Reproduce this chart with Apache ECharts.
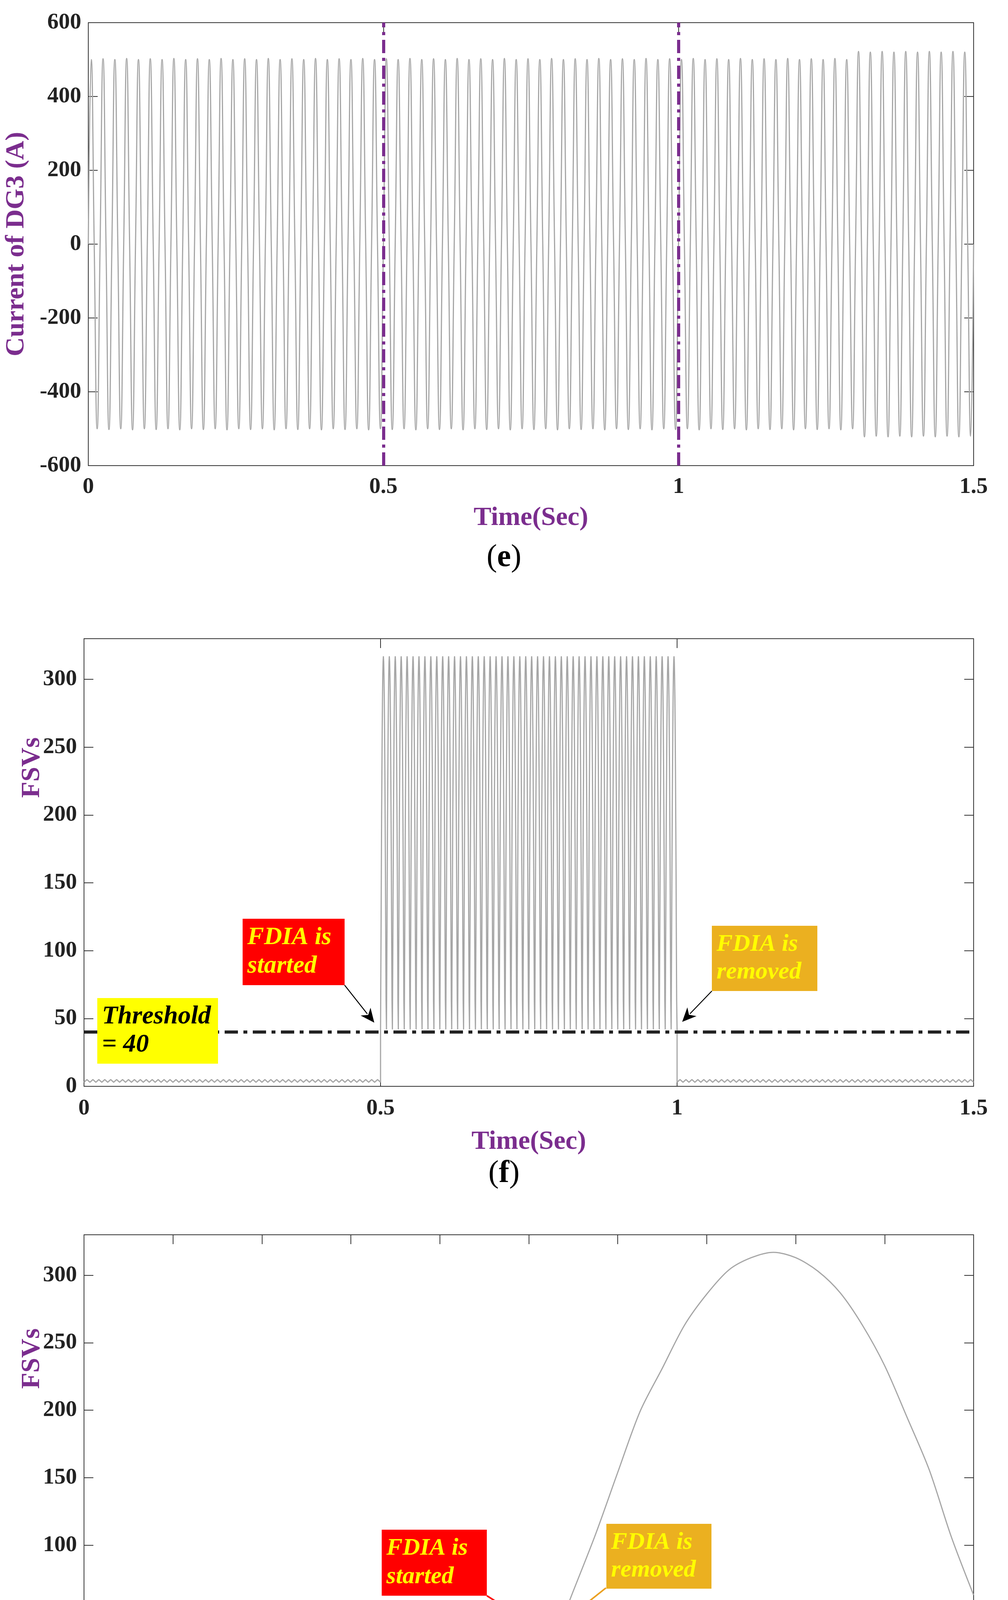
<!DOCTYPE html>
<html><head><meta charset="utf-8">
<script src="https://cdn.jsdelivr.net/npm/echarts@6/dist/echarts.min.js"></script>
<style>html,body{margin:0;padding:0;background:#fff}#c{width:2580px;height:4588px}</style>
</head><body><div id="c"></div>
<script>
// ---------- DATA ----------
// (e) DG3 current: peak amplitude of each 20 ms cycle (50 Hz), 75 cycles over 0..1.5 s
const eCycleAmps = [
500,502,500,503,500,502,500,503,500,502,500,503,500,502,500,503,500,502,500,503,500,502,500,503,500,
502,500,503,500,502,500,503,500,502,500,503,500,502,500,503,500,502,500,503,500,502,500,503,500,502,
500,503,500,502,500,503,500,502,500,503,500,502,500,503,500,522,520,522,520,522,520,522,520,522,520];
const eCyclePeriod = 0.02;
const eEventTimes = [0.5, 1.0];
// (g) FSVs read around attack onset: times and values
const gTimes = [0.49,0.492,0.494,0.4965,0.498,0.4998,0.5,0.50042,0.50069,0.501,0.5015,0.502,0.5025,0.503,0.5035,0.504,0.5045,0.505,0.5055,0.506,0.5065,0.507,0.5075,0.508,0.5085,0.509,0.5095,0.51];
const gValues = [3,2.5,2.6,4,3,2.6,3,20,40,66,108,154,199,231,263,286,304,313,317,313,303,287,263,233,195,156,106,63];
// (f) one 10 ms FSV pulse (offsets after trough) and trough value, repeated during attack
const pulseOffsets = [0,0.0003,0.0008,0.0013,0.0018,0.0023,0.0028,0.0033,0.0038,0.0043,0.0048,0.0053,0.0058,0.0063,0.0068,0.0073,0.0078,0.0083,0.0088,0.0093];
const pulseValues  = [42,66,108,154,199,231,263,286,304,313,317,313,303,287,263,233,195,156,106,63];
const fPulseCount = 50;
const fPulsePeriod = 0.01;
const fRippleValues = [3,5];       // normal-operation ripple low/high
const fRippleHalfPeriod = 0.005;
const threshold = 40;
// ---------- BUILD ----------
const eData = [];
eCycleAmps.forEach((A,k)=>{const t=k*eCyclePeriod;
  eData.push([t,0],[t+eCyclePeriod/4,A],[t+eCyclePeriod/2,0],[t+3*eCyclePeriod/4,-A]);});
eData.push([eCycleAmps.length*eCyclePeriod,0]);
function ripple(t0,t1){const d=[];let i=0;for(let t=t0;t<=t1+1e-9;t+=fRippleHalfPeriod){d.push([t,fRippleValues[i%2]]);i++;}return d;}
const fData = ripple(0,0.5);
fData.push([0.5,pulseValues[0]]);
for(let k=0;k<fPulseCount;k++){const t0=0.5+k*fPulsePeriod;
  pulseOffsets.forEach((o,i)=>{ if(i===0&&k===0) return; fData.push([t0+o,pulseValues[i]]);});}
fData.push([1.0,pulseValues[0]]);
fData.push([1.0,fRippleValues[0]]);
ripple(1.0,1.5).forEach(p=>fData.push(p));
const gData = gTimes.map((t,i)=>[t,gValues[i]]);

// ---------- CHART ----------
const FONT='Liberation Serif', PURPLE='#7B2D8E', GRAY='#A6A6A6';
const grids=[{left:215,right:88,top:58,height:1134},{left:215,right:88,top:1635,height:1146},{left:215,right:88,top:3161,height:1140}];
const tickLab={fontFamily:FONT,fontWeight:'bold',fontSize:58,color:'#222'};
const AL={onZero:false,show:true,lineStyle:{color:'#333',width:2}};
const AT={show:true,inside:true,length:24,lineStyle:{color:'#333',width:2}};
function xAx(i,min,max,interval,opts){return [
 Object.assign({type:'value',gridIndex:i,min,max,interval,axisLine:AL,axisTick:AT,splitLine:{show:false},axisLabel:Object.assign({margin:24},tickLab)},opts||{}),
 {type:'value',gridIndex:i,min,max,interval,position:'top',axisLine:AL,axisTick:AT,axisLabel:{show:false},splitLine:{show:false}}];}
function yAx(i,min,max,interval,opts){return [
 Object.assign({type:'value',gridIndex:i,min,max,interval,axisLine:AL,axisTick:AT,splitLine:{show:false},axisLabel:Object.assign({margin:18,showMaxLabel:max%interval===0},tickLab)},opts||{}),
 {type:'value',gridIndex:i,min,max,interval,position:'right',axisLine:AL,axisTick:AT,axisLabel:{show:false},splitLine:{show:false}}];}
const titleStyle={fontFamily:FONT,fontWeight:'bold',fontSize:68,color:PURPLE};
const xAxis=[
 ...xAx(0,0,1.5,0.5,{name:'Time(Sec)',nameLocation:'middle',nameGap:100,nameTextStyle:titleStyle,axisLabel:Object.assign({margin:26,formatter:v=>String(+v.toFixed(2))},tickLab)}),
 ...xAx(1,0,1.5,0.5,{name:'Time(Sec)',nameLocation:'middle',nameGap:108,nameTextStyle:titleStyle,axisLabel:Object.assign({margin:28,formatter:v=>String(+v.toFixed(2))},tickLab)}),
 ...xAx(2,0.49,0.51,0.002,{name:'Time (Sec)',nameLocation:'middle',nameGap:116,nameTextStyle:titleStyle,axisLabel:Object.assign({margin:28,formatter:v=>String(+v.toFixed(3))},tickLab)})];
const yAxis=[
 ...yAx(0,-600,600,200,{name:'Current of DG3 (A)',nameLocation:'middle',nameGap:150,nameTextStyle:titleStyle}),
 ...yAx(1,0,330,50),
 ...yAx(2,0,330,50)];
function thr(i){return {type:'line',xAxisIndex:2*i,yAxisIndex:2*i,data:[],silent:true,
  markLine:{symbol:'none',silent:true,label:{show:false},lineStyle:{color:'#222',width:8,type:[34,14,10,14]},data:[{yAxis:threshold}]}};}
const series=[
 {type:'line',xAxisIndex:0,yAxisIndex:0,data:eData,smooth:0.5,showSymbol:false,lineStyle:{color:GRAY,width:3},z:2,
  markLine:{symbol:'none',silent:true,label:{show:false},lineStyle:{color:PURPLE,width:8,type:[34,12,8,12]},data:eEventTimes.map(t=>({xAxis:t}))}},
 {type:'line',xAxisIndex:2,yAxisIndex:2,data:fData,showSymbol:false,lineStyle:{color:GRAY,width:3},z:2},
 thr(1),
 {type:'line',xAxisIndex:4,yAxisIndex:4,data:gData,smooth:0.3,showSymbol:false,lineStyle:{color:GRAY,width:3},z:2},
 thr(2)];
const chart=echarts.init(document.getElementById('c'));
chart.setOption({animation:false,backgroundColor:'#fff',grid:grids,xAxis,yAxis,series});

// ---------- ANNOTATIONS ----------
const G=[];
function cap(txt,y){G.push({type:'text',x:1290,y,style:{text:'{p|(}{b|'+txt+'}{p|)}',align:'center',verticalAlign:'middle',
 rich:{p:{fontFamily:FONT,fontSize:80,fill:'#000'},b:{fontFamily:FONT,fontSize:80,fontWeight:'bold',fill:'#000'}}}});}
cap('e',1428);cap('f',3005);cap('g',4512);
function ylab(y){G.push({type:'text',x:82,y,rotation:Math.PI/2,style:{text:'FSVs',align:'center',verticalAlign:'middle',font:'bold 68px "Liberation Serif"',fill:PURPLE}});}
ylab(1965);ylab(3478);
function box(x,y,w,h,color,lines,tcolor,fs){G.push({type:'rect',shape:{x,y,width:w,height:h},style:{fill:color},z:10});
 lines.forEach((l,i)=>G.push({type:'text',x:x+12,y:y+h*(i+0.5)/lines.length+ (lines.length>1?(i===0?6:-6):0),z:11,
  style:{text:l,align:'left',verticalAlign:'middle',font:'italic bold '+fs+'px "Liberation Serif"',fill:tcolor}}));}
function arrow(x1,y1,x2,y2,color,w,hl){const a=Math.atan2(y2-y1,x2-x1),hw=hl*0.45;
 G.push({type:'line',shape:{x1,y1,x2:x2-Math.cos(a)*hl*0.8,y2:y2-Math.sin(a)*hl*0.8},style:{stroke:color,lineWidth:w},z:12});
 G.push({type:'polygon',shape:{points:[[x2,y2],[x2-Math.cos(a)*hl+Math.sin(a)*hw,y2-Math.sin(a)*hl-Math.cos(a)*hw],[x2-Math.cos(a)*hl*0.7,y2-Math.sin(a)*hl*0.7],[x2-Math.cos(a)*hl-Math.sin(a)*hw,y2-Math.sin(a)*hl+Math.cos(a)*hw]]},style:{fill:color},z:12});}
function dashed(x1,y1,x2,y2,color,w){G.push({type:'line',shape:{x1,y1,x2,y2},style:{stroke:color,lineWidth:w,lineDash:[16,10]},z:12});}
// panel f
box(249,2555,309,168,'#FFFF00',['Threshold','= 40'],'#000',66);
box(621,2352,261,170,'#FF0000',['FDIA is','started'],'#FFFF00',64);
arrow(882,2522,958,2618,'#000',2.5,36);
box(1822,2370,270,167,'#EBB020',['FDIA is','removed'],'#FFFF00',62);
arrow(1822,2537,1746,2616,'#000',2.5,36);
// panel g
const px=(x,y)=>chart.convertToPixel({xAxisIndex:4,yAxisIndex:4},[x,y]);
const p0=px(0.5,threshold),p1=px(0.50069,threshold),b0=px(0.5,0),h=px(0.5,26);
box(977,3916,269,169,'#FF0000',['FDIA is','started'],'#FFFF00',62);
box(1552,3901,269,166,'#EBB020',['FDIA is','removed'],'#FFFF00',62);
box(1471,4180,251,93,'#FFFF00',['t = 1 ms'],'#000',66);
arrow(1246,4085,p0[0]-6,p0[1]-14,'#FF0000',4,34);
arrow(1551,4065,p1[0]+16,p1[1]-16,'#EBA020',4,34);
dashed(p0[0],p0[1]+4,b0[0],b0[1]-30,'#FF0000',4); arrow(p0[0],b0[1]-40,p0[0],b0[1]-6,'#FF0000',3,30);
dashed(p1[0],p1[1]+4,p1[0],b0[1]-30,'#FF0000',4); arrow(p1[0],b0[1]-40,p1[0],b0[1]-6,'#FF0000',3,30);
dashed(h[0],h[1],1471,h[1],'#D95319',5);
chart.setOption({graphic:G});
</script></body></html>
